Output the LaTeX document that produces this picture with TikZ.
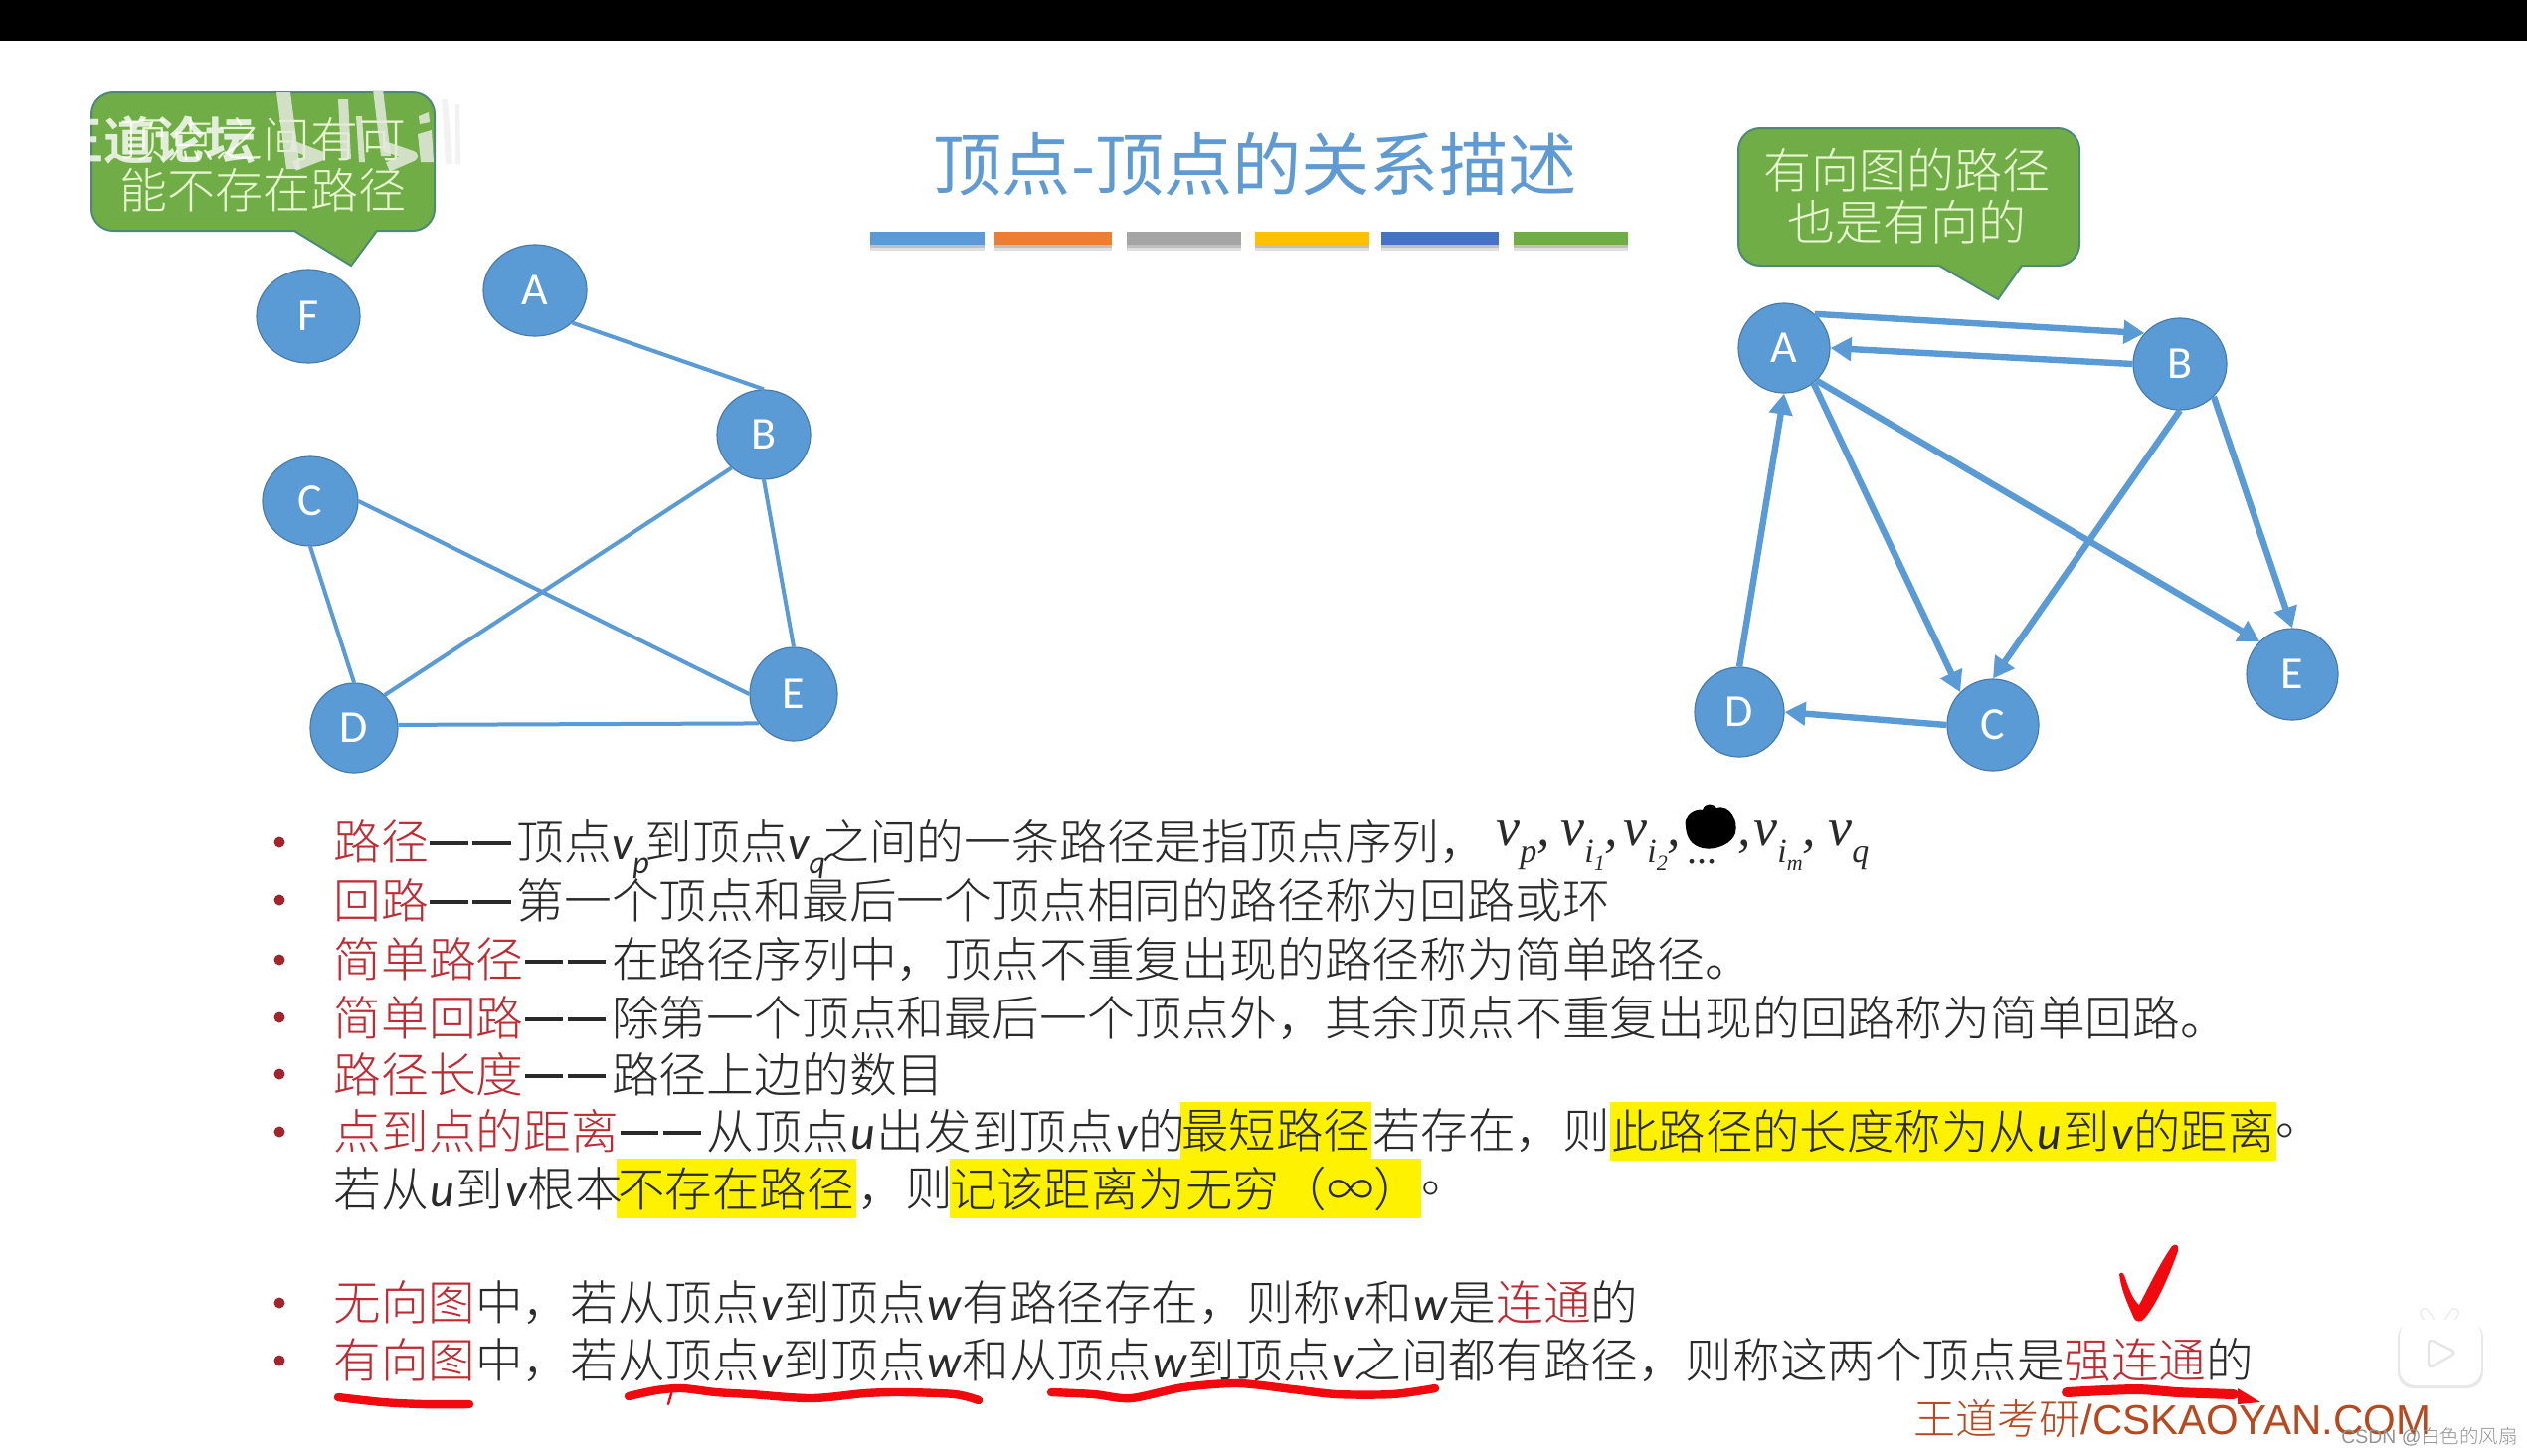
\documentclass[tikz,border=0pt]{standalone}
\usepackage{fontspec}
\usetikzlibrary{shapes.geometric,arrows.meta}
\setmainfont{Noto Sans CJK SC Light}
\newfontfamily\lat{Carlito}
\newfontfamily\latit{Carlito Italic}
\newfontfamily\tm{Liberation Serif Italic}
\newfontfamily\lib{Liberation Sans}
\newfontfamily\cjkreg{Noto Sans CJK SC}
\newfontfamily\cjkbold{Noto Sans CJK SC Bold}
\definecolor{nodeblue}{HTML}{5B9BD5}
\definecolor{edgeblue}{HTML}{5B9BD5}
\definecolor{calgreen}{HTML}{70AD47}
\definecolor{calline}{HTML}{4E8A78}
\definecolor{caltext}{HTML}{E6F6CF}
\definecolor{redt}{HTML}{BE2B33}
\definecolor{blackt}{HTML}{2A2A2A}
\definecolor{titleblue}{HTML}{5F9BD2}
\definecolor{inkred}{HTML}{F00A10}
\definecolor{wm}{HTML}{B8491E}
\definecolor{logoc}{HTML}{E4EADD}
\newcommand{\rr}[1]{\textcolor{redt}{#1}}
\newcommand{\dd}{\hspace{.03em}\rule[.3em]{.8em}{.075em}\hspace{.1em}\rule[.3em]{.8em}{.075em}\hspace{.12em}}
\newcommand{\iv}[1]{{\latit\hspace{.04em}#1\hspace{.02em}}}
\newcommand{\isub}[2]{{\latit #1\raisebox{-.3em}{\fontsize{16}{16}\selectfont #2}\hspace{-.08em}}}
\newcommand{\tv}[2]{{\tm\fontsize{27}{27}\selectfont #1\raisebox{-.32em}{\fontsize{17}{17}\selectfont #2}}}
\newcommand{\ssub}[2]{#1\raisebox{-.25em}{\fontsize{11}{11}\selectfont #2}}
\tikzset{
  x=0.5pt,y=-0.5pt,
  vert/.style={ellipse,fill=nodeblue,draw=nodeblue!80!black,line width=.6pt,inner sep=0pt,text=white,font=\lat\fontsize{23}{23}\selectfont},
  uedge/.style={draw=edgeblue,line width=2pt},
  dedge/.style={draw=edgeblue,line width=3.2pt,-{Triangle[length=10.5pt,width=11.5pt]}},
  callout/.style={fill=calgreen,draw=calline,line width=1pt},
  caltxt/.style={text=caltext,font=\fontsize{24}{24}\selectfont,inner sep=0pt},
  line/.style={anchor=west,inner sep=0pt,text=blackt,font=\fontsize{23.9}{23.9}\selectfont},
  lineb/.style={anchor=west,inner sep=0pt,text=blackt,font=\fontsize{23.8}{23.8}\selectfont},
  hl/.style={fill=yellow,inner sep=0pt,text=blackt,font=\fontsize{23.7}{23.7}\selectfont,anchor=center},
  bul/.style={circle,fill=redt!85!black,inner sep=0pt,minimum size=5.5pt},
  mathv/.style={anchor=base west,inner sep=0pt,text=blackt},
  ink/.style={draw=inkred,line cap=round,line join=round,line width=4.2pt},
  logo/.style={fill=logoc,opacity=.85},
  logostroke/.style={draw=logoc,opacity=.85,line width=5pt,line join=round},
}
\begin{document}
\begin{tikzpicture}
\useasboundingbox (0,0) rectangle (2541,1463);
\fill[white] (0,0) rectangle (2541,1463);
\fill[black] (0,0) rectangle (2541,41);

% title
\node[inner sep=0pt,text=titleblue,font=\cjkreg\fontsize{34.6}{34.6}\selectfont] (title) at (1262,165) {顶点-顶点的关系描述};
\foreach \a/\b/\c in {875/990/5B9BD5,1000/1118/ED7D31,1133/1248/A5A5A5,1262/1377/FFC000,1389/1507/4472C4,1522/1637/70AD47}{
  \definecolor{barc}{HTML}{\c}
  \fill[black!12] (\a,240) rectangle (\b,252);
  \fill[black!25] (\a,240) rectangle (\b,249);
  \fill[barc] (\a,233) rectangle (\b,246);
}

% left callout
\draw[callout] (114,93) arc[start angle=270,end angle=180,radius=22] -- (92,210) arc[start angle=180,end angle=90,radius=22] -- (296,232) -- (353,267) -- (379,232) -- (415,232) arc[start angle=90,end angle=0,radius=22] -- (437,115) arc[start angle=0,end angle=-90,radius=22] -- cycle;
\node[caltxt] (l1) at (264,140) {顶点之间有可};
\node[caltxt] (l2) at (264,191) {能不存在路径};

% left graph
\node[vert,minimum width=52pt,minimum height=47pt] (F) at (310,318) {F};
\node[vert,minimum width=52pt,minimum height=46pt] (A) at (538,292) {A};
\node[vert,minimum width=47pt,minimum height=45pt] (B) at (768,437) {B};
\node[vert,minimum width=48pt,minimum height=45pt] (C) at (312,504) {C};
\node[vert,minimum width=44pt,minimum height=45pt] (D) at (356,732) {D};
\node[vert,minimum width=44pt,minimum height=47pt] (E) at (798,698) {E};
\draw[uedge] (A.-41) -- (B.north);
\draw[uedge] (B.-134) -- (D.47);
\draw[uedge] (B.south) -- (E.north);
\draw[uedge] (C.east) -- (E.west);
\draw[uedge] (C.south) -- (D.north);
\draw[uedge] (D.4) -- (E.220);

% right callout
\draw[callout] (1770,129) arc[start angle=270,end angle=180,radius=22] -- (1748,245) arc[start angle=180,end angle=90,radius=22] -- (1950,267) -- (2009,301) -- (2033,267) -- (2069,267) arc[start angle=90,end angle=0,radius=22] -- (2091,151) arc[start angle=0,end angle=-90,radius=22] -- cycle;
\node[caltxt] (r1) at (1917,171) {有向图的路径};
\node[caltxt] (r2) at (1917,223) {也是有向的};

% right graph
\node[vert,minimum width=46pt,minimum height=45pt] (a) at (1794,350) {A};
\node[vert,minimum width=47pt,minimum height=46pt] (b) at (2192,366) {B};
\node[vert,minimum width=46pt,minimum height=46pt] (c) at (2004,729) {C};
\node[vert,minimum width=45pt,minimum height=45pt] (d) at (1749,716) {D};
\node[vert,minimum width=46pt,minimum height=46pt] (e) at (2305,678) {E};
\draw[dedge] (a.48) -- (b.139);
\draw[dedge] (b.180) -- (a.0);
\draw[dedge] (d.north) -- (a.south);
\draw[dedge] (a.-50) -- (c.135);
\draw[dedge] (a.-45) -- (e.135);
\draw[dedge] (b.south) -- (c.north);
\draw[dedge] (b.-44) -- (e.north);
\draw[dedge] (c.west) -- (d.east);

% highlighted runs
\node[hl,minimum width=95.75pt,minimum height=28.5pt] (h1) at (1283,1136.5) {最短路径};
\node[hl,minimum width=335pt,minimum height=29.5pt] (h2) at (1954,1137) {此路径的长度称为从\iv{u}到\iv{v}的距离};
\node[hl,minimum width=120.5pt,minimum height=30pt] (h3) at (740,1195) {不存在路径};
\node[hl,minimum width=237pt,minimum height=30pt] (h4) at (1192,1195) {记该距离为无穷（∞）};

% bullets
\foreach \n/\yy in {1/847,2/905,3/965,4/1023,5/1080,6/1138,7/1310,8/1368}{
  \node[bul] (bu\n) at (281,\yy) {};
}

% text lines
\node[line] (t1) at (335,854) {\rr{路径}\dd 顶点\isub{v}{p}到顶点\isub{v}{q}之间的一条路径是指顶点序列，};
\node[line] (t2) at (335,905) {\rr{回路}\dd 第一个顶点和最后一个顶点相同的路径称为回路或环};
\node[line] (t3) at (335,965) {\rr{简单路径}\dd 在路径序列中，顶点不重复出现的路径称为简单路径。};
\node[line] (t4) at (335,1023) {\rr{简单回路}\dd 除第一个顶点和最后一个顶点外，其余顶点不重复出现的回路称为简单回路。};
\node[line] (t5) at (335,1080) {\rr{路径长度}\dd 路径上边的数目};
\node[line] (t6) at (335,1137) {\rr{点到点的距离}\dd 从顶点\iv{u}出发到顶点\iv{v}的};
\node[line] (t6b) at (1380,1137) {若存在，则};
\node[line] (t6c) at (2288,1137) {。};
\node[line] (t7) at (335,1195) {若从\iv{u}到\iv{v}根本};
\node[line] (t7b) at (862,1195) {，则};
\node[line] (t7c) at (1429,1195) {。};
\node[lineb] (t8) at (335,1310) {\rr{无向图}中，若从顶点\iv{v}到顶点\iv{w}有路径存在，则称\iv{v}和\iv{w}是\rr{连通}的};
\node[lineb] (t9) at (335,1368) {\rr{有向图}中，若从顶点\iv{v}到顶点\iv{w}和从顶点\iv{w}到顶点\iv{v}之间都有路径，则称这两个顶点是\rr{强连通}的};

% vertex sequence
\node[mathv] (v1) at (1504,850) {\tv{v}{p}\tv{,}{}};
\node[mathv] (v2) at (1569,850) {\tm\fontsize{27}{27}\selectfont v\raisebox{-.32em}{\fontsize{17}{17}\selectfont\ssub{i}{1}},};
\node[mathv] (v3) at (1632,850) {\tm\fontsize{27}{27}\selectfont v\raisebox{-.32em}{\fontsize{17}{17}\selectfont\ssub{i}{2}},};
\node[mathv] (v4) at (1697,868) {\tm\fontsize{20}{20}\selectfont ...};
\node[mathv] (v5) at (1747,850) {\tm\fontsize{27}{27}\selectfont ,};
\node[mathv] (v6) at (1763,850) {\tm\fontsize{27}{27}\selectfont v\raisebox{-.32em}{\fontsize{17}{17}\selectfont\ssub{i}{m}},};
\node[mathv] (v7) at (1838,850) {\tv{v}{q}};
\fill[black] (1695,832) .. controls (1692,818) and (1706,812) .. (1712,814) .. controls (1714,806) and (1724,808) .. (1726,812) .. controls (1740,808) and (1748,825) .. (1745,838) .. controls (1742,848) and (1726,856) .. (1712,853) .. controls (1700,850) and (1696,842) .. (1695,832) -- cycle;

% red ink
\draw[ink] plot[smooth] coordinates {(340,1405)(385,1410)(426,1412)(472,1412)};
\draw[ink] plot[smooth] coordinates {(632,1404)(660,1398)(686,1396)(720,1400)(755,1402)(816,1406)(870,1401)(908,1400)(960,1402)(984,1408)};
\draw[ink,line width=1.2pt] (676,1398) -- (672,1412);
\draw[ink] plot[smooth] coordinates {(1057,1400)(1100,1402)(1137,1406)(1190,1395)(1245,1391)(1300,1397)(1344,1402)(1400,1402)(1443,1396)};
\draw[ink,line width=5pt] plot[smooth] coordinates {(2078,1400)(2147,1397)(2190,1400)(2246,1402)};
\fill[inkred] (2250,1396) -- (2273,1410) -- (2250,1412) -- cycle;
\fill[inkred] (2131,1281) .. controls (2134,1277) and (2136,1282) .. (2137,1285) .. controls (2142,1300) and (2146,1308) .. (2151,1312) .. controls (2160,1295) and (2172,1270) .. (2184,1253) .. controls (2188,1250) and (2191,1252) .. (2190,1258) .. controls (2182,1280) and (2170,1310) .. (2156,1326) .. controls (2153,1330) and (2148,1329) .. (2146,1326) .. controls (2140,1312) and (2133,1298) .. (2131,1281) -- cycle;

% footer
\node[anchor=west,inner sep=0pt,text=wm,font=\fontsize{21}{21}\selectfont] (w1) at (1924,1427) {王道考研{\lib /CSKAOYAN.COM}};
\node[anchor=west,inner sep=0pt,text=gray!85,font=\fontsize{9.7}{9.7}\selectfont] (w2) at (2354,1445) {{\lib CSDN @}白色的风扇};

% play icon
\draw[black!8,line width=5pt,line cap=round] (2438,1320) -- (2447,1334);
\draw[black!8,line width=5pt,line cap=round] (2468,1320) -- (2459,1334);
\fill[black!9,rounded corners=8pt] (2411,1329) rectangle (2497,1396);
\draw[white,line width=3.5pt,line cap=round] (2438,1320) -- (2447,1334);
\draw[white,line width=3.5pt,line cap=round] (2468,1320) -- (2459,1334);
\fill[white,rounded corners=8pt] (2413,1327) rectangle (2495,1393);
\draw[black!10,fill=white,line width=1.2pt,rounded corners=2.5pt] (2442,1346) -- (2442,1376) -- (2470,1360) -- cycle;

% video watermark
\node[inner sep=0pt,text=white,opacity=.8,font=\cjkbold\fontsize{25.5}{25.5}\selectfont] (wm1) at (155,141) {王道论坛};
\fill[logo] (278,93) -- (292,93) -- (302,170) -- (288,170) -- cycle;
\draw[logostroke] (293,146) -- (322,157) -- (296,167);
\fill[logo] (340,100) -- (350,100) -- (353,160) -- (343,160) -- cycle;
\fill[logo] (358,117) -- (364,117) -- (367,163) -- (361,163) -- cycle;
\fill[logo] (375,90) -- (385,90) -- (393,157) -- (383,157) -- cycle;
\draw[logostroke] (386,147) -- (415,157) -- (390,168);
\fill[logo] (420,135) -- (434,131) -- (436,163) -- (423,163) -- cycle;
\fill[logo] (421,117) -- (431,113) -- (432,123) -- (422,125) -- cycle;
\fill[black!5] (444,100) -- (450,100) -- (455,165) -- (448,165) -- cycle;
\fill[black!5] (458,105) -- (462,105) -- (463,165) -- (458,165) -- cycle;
\end{tikzpicture}
\end{document}
